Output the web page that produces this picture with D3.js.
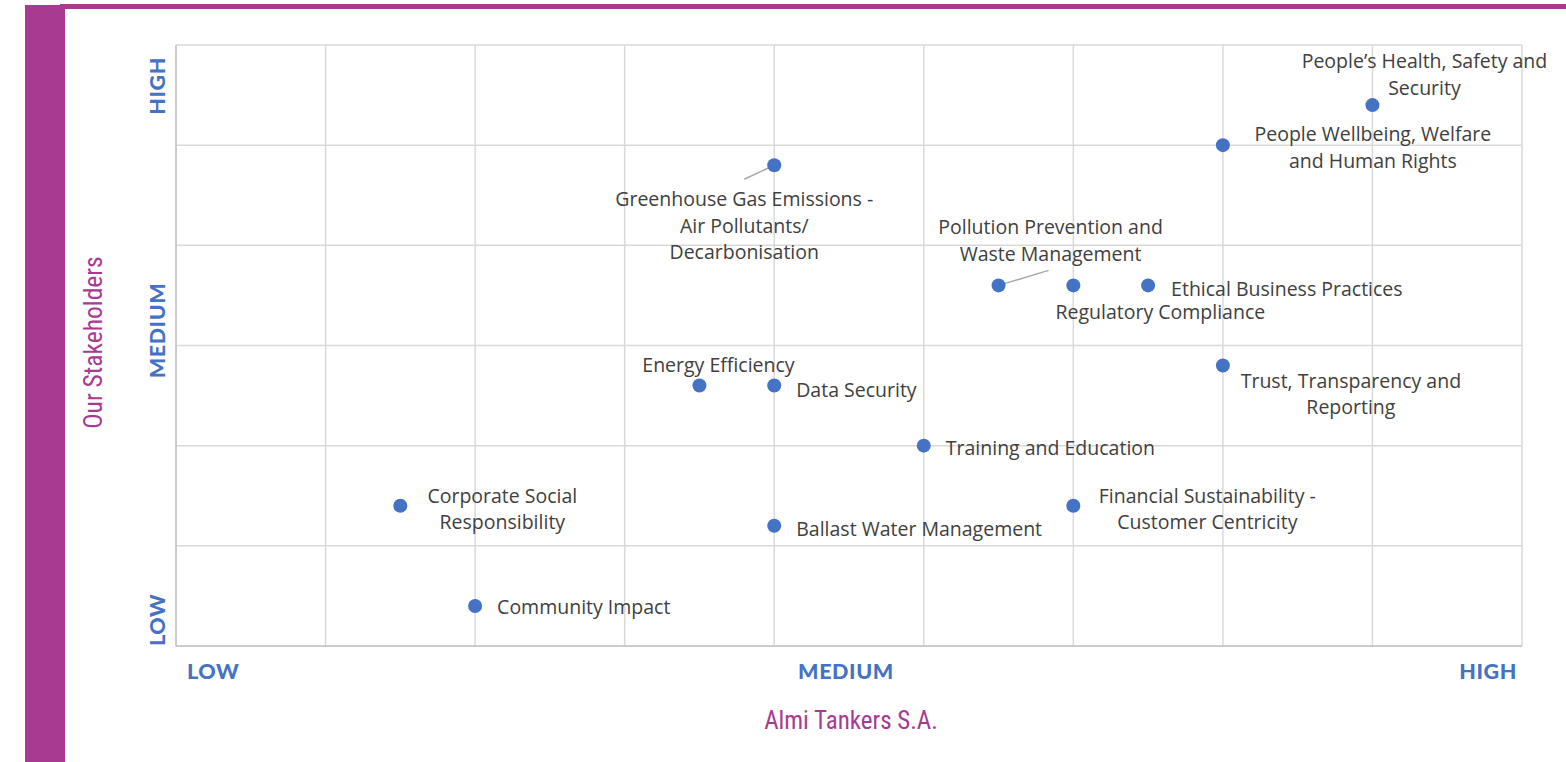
<!DOCTYPE html>
<html>
<head>
<meta charset="utf-8">
<script src="https://cdn.jsdelivr.net/npm/d3@7"></script>
<style>
  body { margin: 0; background: #fff; }
  svg { display: block; }
</style>
</head>
<body>
<svg id="chart"></svg>
<script>
const width = 1566;
const height = 762;

// topics and their scores (x = Almi Tankers, y = stakeholders)
const topics = [
  "People\u2019s Health, Safety and Security",
  "People Wellbeing, Welfare and Human Rights",
  "Greenhouse Gas Emissions - Air Pollutants/ Decarbonisation",
  "Pollution Prevention and Waste Management",
  "Regulatory Compliance",
  "Ethical Business Practices",
  "Trust, Transparency and Reporting",
  "Energy Efficiency",
  "Data Security",
  "Training and Education",
  "Corporate Social Responsibility",
  "Ballast Water Management",
  "Financial Sustainability - Customer Centricity",
  "Community Impact"
];
const companyScore = [8, 7, 4, 5.5, 6, 6.5, 7, 3.5, 4, 5, 1.5, 4, 6, 2];
const stakeholderScore = [5.4, 5, 4.8, 3.6, 3.6, 3.6, 2.8, 2.6, 2.6, 2, 1.4, 1.2, 1.4, 0.4];

const levelLabels = ["LOW", "MEDIUM", "HIGH"];

// label placement: lines, anchor, dx/dy of first line, optional leader line end
const labelLayout = [
  { lines: ["People\u2019s Health, Safety and", "Security"], anchor: "middle", dx: 52, dy: -44 },
  { lines: ["People Wellbeing, Welfare", "and Human Rights"], anchor: "middle", dx: 150, dy: -11 },
  { lines: ["Greenhouse Gas Emissions -", "Air Pollutants/", "Decarbonisation"], anchor: "middle", dx: -30, dy: 34, leader: [-30, 14] },
  { lines: ["Pollution Prevention and", "Waste Management"], anchor: "middle", dx: 52, dy: -58, leader: [50, -15] },
  { lines: ["Regulatory Compliance"], anchor: "middle", dx: 87, dy: 27 },
  { lines: ["Ethical Business Practices"], anchor: "start", dx: 23, dy: 4 },
  { lines: ["Trust, Transparency and", "Reporting"], anchor: "middle", dx: 128, dy: 15 },
  { lines: ["Energy Efficiency"], anchor: "middle", dx: 19, dy: -21 },
  { lines: ["Data Security"], anchor: "start", dx: 22, dy: 4 },
  { lines: ["Training and Education"], anchor: "start", dx: 22, dy: 2 },
  { lines: ["Corporate Social", "Responsibility"], anchor: "middle", dx: 102, dy: -10 },
  { lines: ["Ballast Water Management"], anchor: "start", dx: 22, dy: 3 },
  { lines: ["Financial Sustainability -", "Customer Centricity"], anchor: "middle", dx: 134, dy: -10 },
  { lines: ["Community Impact"], anchor: "start", dx: 22, dy: 1 }
];

const data = topics.map((t, i) => ({
  name: t,
  x: companyScore[i],
  y: stakeholderScore[i],
  layout: labelLayout[i]
}));

const margin = { left: 176, right: 44, top: 45, bottom: 116 };
const magenta = "#A83A91";
const blue = "#4472C4";
const labelFont = "'Open Sans', sans-serif";

const svg = d3.select("#chart")
  .attr("width", width)
  .attr("height", height);

// frame decorations
svg.append("rect")
  .attr("x", 25).attr("y", 5)
  .attr("width", 40).attr("height", height - 5)
  .attr("fill", magenta);
svg.append("rect")
  .attr("x", 60).attr("y", 4)
  .attr("width", width - 60).attr("height", 5)
  .attr("fill", magenta);

const x = d3.scaleLinear()
  .domain([0, 9])
  .range([margin.left, width - margin.right]);
const y = d3.scaleLinear()
  .domain([0, 6])
  .range([height - margin.bottom, margin.top]);

// grid
const grid = svg.append("g");
grid.selectAll(".vx")
  .data(d3.range(0, 10))
  .enter().append("line")
  .attr("x1", d => x(d)).attr("x2", d => x(d))
  .attr("y1", y(0)).attr("y2", y(6))
  .attr("stroke", "#d9d9d9")
  .attr("stroke-width", 1.5);
grid.selectAll(".hy")
  .data(d3.range(0, 7))
  .enter().append("line")
  .attr("x1", x(0)).attr("x2", x(9))
  .attr("y1", d => y(d)).attr("y2", d => y(d))
  .attr("stroke", "#d9d9d9")
  .attr("stroke-width", 1.5);
// axis lines slightly darker
grid.append("line")
  .attr("x1", x(0)).attr("x2", x(0))
  .attr("y1", y(0)).attr("y2", y(6))
  .attr("stroke", "#c4c4c4").attr("stroke-width", 1.5);
grid.append("line")
  .attr("x1", x(0)).attr("x2", x(9))
  .attr("y1", y(0)).attr("y2", y(0))
  .attr("stroke", "#c4c4c4").attr("stroke-width", 1.5);

// level labels along x
const levelStyle = sel => sel
  .attr("fill", blue)
  .attr("font-family", "'Lato', sans-serif")
  .attr("font-weight", 900)
  .attr("font-size", 21.5)
  .attr("letter-spacing", 0.6);

const xLevelPos = [
  { v: 0, dx: 11, anchor: "start" },
  { v: 4.5, dx: -3, anchor: "middle" },
  { v: 9, dx: -5, anchor: "end" }
];
svg.selectAll(".xlevel")
  .data(levelLabels)
  .enter().append("text")
  .attr("x", (d, i) => x(xLevelPos[i].v) + xLevelPos[i].dx)
  .attr("y", y(0) + 33)
  .attr("text-anchor", (d, i) => xLevelPos[i].anchor)
  .text(d => d)
  .call(levelStyle);

const yLevelPos = [
  { v: 0, dy: 0, anchor: "start" },
  { v: 3.15, dy: 0, anchor: "middle" },
  { v: 6, dy: 12, anchor: "end" }
];
svg.selectAll(".ylevel")
  .data(levelLabels)
  .enter().append("text")
  .attr("transform", (d, i) => `translate(${x(0) - 11}, ${y(yLevelPos[i].v) + yLevelPos[i].dy}) rotate(-90)`)
  .attr("text-anchor", (d, i) => yLevelPos[i].anchor)
  .text(d => d)
  .call(levelStyle);

// axis titles
svg.append("text")
  .attr("x", (x(0) + x(9)) / 2 + 2)
  .attr("y", y(0) + 83)
  .attr("text-anchor", "middle")
  .attr("fill", magenta)
  .attr("font-family", "'Liberation Sans Narrow', 'Roboto Condensed', sans-serif")
  .attr("font-size", 25)
  .text("Almi Tankers S.A.");
svg.append("text")
  .attr("transform", `translate(102, ${y(3.03)}) rotate(-90)`)
  .attr("text-anchor", "middle")
  .attr("fill", magenta)
  .attr("font-family", "'Liberation Sans Narrow', 'Roboto Condensed', sans-serif")
  .attr("font-size", 25.5)
  .text("Our Stakeholders");

// points and labels
const node = svg.selectAll(".topic")
  .data(data)
  .enter().append("g")
  .attr("transform", d => `translate(${x(d.x)}, ${y(d.y)})`);

node.filter(d => d.layout.leader)
  .append("line")
  .attr("x1", 0).attr("y1", 0)
  .attr("x2", d => d.layout.leader[0])
  .attr("y2", d => d.layout.leader[1])
  .attr("stroke", "#a6a6a6")
  .attr("stroke-width", 1.5);

node.append("circle")
  .attr("r", 7)
  .attr("fill", blue);

const label = node.append("text")
  .attr("text-anchor", d => d.layout.anchor)
  .attr("fill", "#404040")
  .attr("font-family", labelFont)
  .attr("font-size", 19.5);

label.selectAll("tspan")
  .data(d => d.layout.lines.map((l, i) => ({ l, i, lay: d.layout })))
  .enter().append("tspan")
  .attr("x", d => d.lay.dx)
  .attr("y", d => d.lay.dy + d.i * 26.5 + 7)
  .text(d => d.l);
</script>
</body>
</html>
